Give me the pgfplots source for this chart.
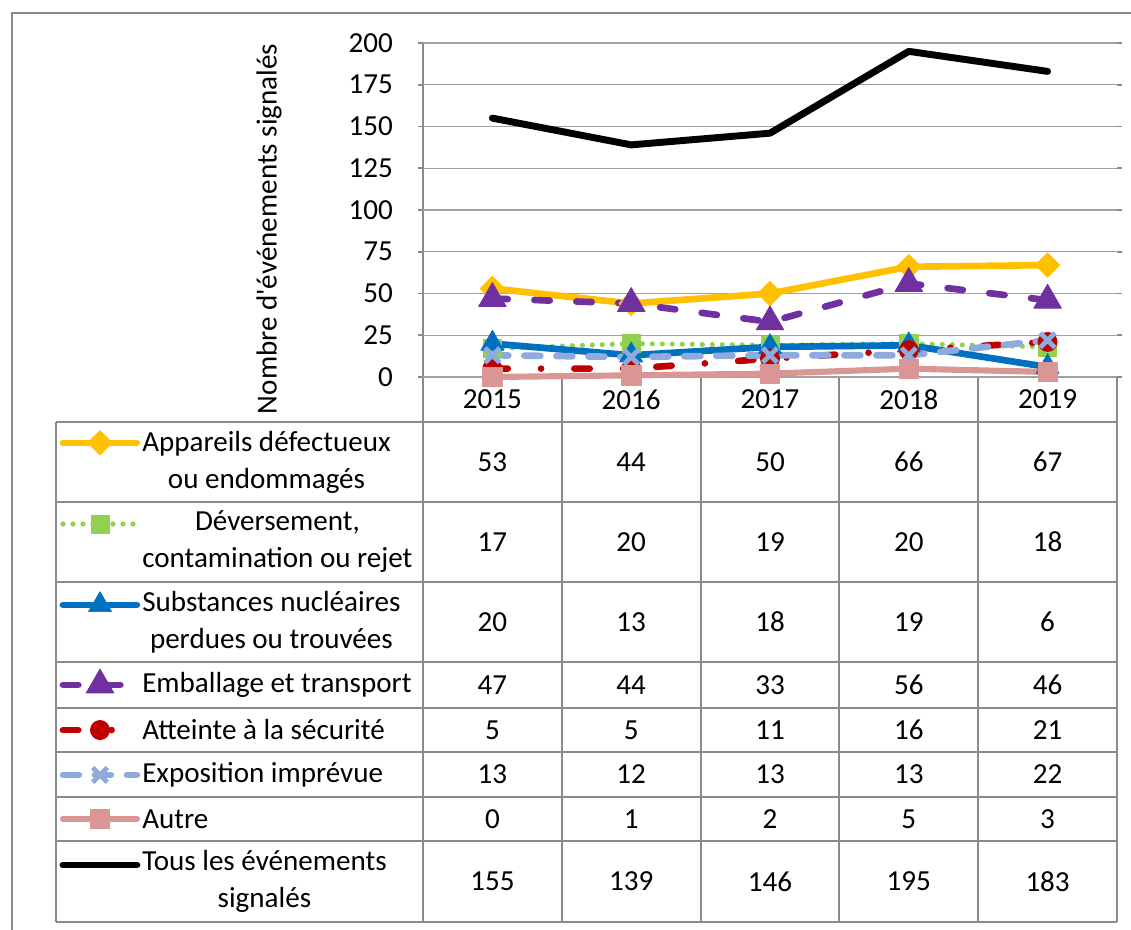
\documentclass[border=0pt]{standalone}
\usepackage{fontspec}
\setmainfont{Carlito}
\usepackage{pgfplots}
\pgfplotsset{compat=1.18}
\usepackage{pgfplotstable}
\definecolor{cA}{HTML}{FFC000}
\definecolor{cD}{HTML}{92D050}
\definecolor{cS}{HTML}{0070C0}
\definecolor{cE}{HTML}{7030A0}
\definecolor{cAt}{HTML}{C00000}
\definecolor{cEx}{HTML}{8FAADC}
\definecolor{cAu}{HTML}{D99694}
\definecolor{gridgray}{HTML}{A0A0A0}
\definecolor{tblgray}{HTML}{8A8A8A}
\newcommand\tf{\fontsize{21.8pt}{27.8pt}\selectfont}

\pgfplotstableread{
x A D S E At Ex Au T
0 53 17 20 47 5 13 0 155
1 44 20 13 44 5 12 1 139
2 50 19 18 33 11 13 2 146
3 66 20 19 56 16 13 5 195
4 67 18 6 46 21 22 3 183
}\data

\pgfplotsset{
 base/.style={line width=5pt, line cap=round, line join=round},
 sA/.style={base, color=cA, mark=square*, mark size=6.5pt, mark options={solid, rotate=45, line width=0.5pt}},
 sD/.style={base, line width=3.9pt, color=cD, dash pattern=on 0pt off 7.5pt, mark=square*, mark size=6.8pt, mark options={solid, line width=0.5pt}},
 sS/.style={base, color=cS, mark=triangle*, mark size=10pt, mark options={solid, line width=0.5pt}},
 sE/.style={base, color=cE, dash pattern=on 11.5pt off 20pt, mark=triangle*, mark size=12pt, mark options={solid, line width=0.5pt}},
 sAt/.style={base, color=cAt, dash pattern=on 11.5pt off 25pt on 0pt off 25pt, mark=*, mark size=7.2pt, mark options={solid, line width=0.5pt}},
 sEx/.style={base, color=cEx, dash pattern=on 12pt off 12pt, mark=x, mark size=7.8pt, mark options={solid, line width=3.6pt, line cap=butt}},
 sAu/.style={base, line width=4.6pt, color=cAu, mark=square*, mark size=7.3pt, mark options={solid, line width=0.5pt}},
 sT/.style={base, line width=5.2pt, color=black, mark=none},
 num/.style={draw=none, forget plot, nodes near coords, point meta=explicit,
   every node near coord/.style={anchor=center, inner sep=0pt, font=\tf, text=black}},
}

\begin{document}
\begin{tikzpicture}[px/.style={x=0.75pt, y=-0.75pt, shift={(-423,-377)}},
  tbl/.style={draw=tblgray, line width=1.5pt}]
% frame and table grid
\begin{scope}[px]
\draw[draw=tblgray, line width=1.2pt] (12,1000) -- (12,13) -- (1200,13);
\foreach \Y in {422,502,582,662,708,752,797,841,922}
  \draw[tbl] (56,\Y) -- (1117,\Y);
\draw[tbl] (423,377) -- (1117,377);
\draw[tbl] (56,422) -- (56,922);
\draw[tbl] (423,43) -- (423,922);
\foreach \X in {561.8,700.6,839.4,978.2,1117}
  \draw[tbl] (\X,377) -- (\X,922);
% legend texts
\begin{scope}[every node/.style={anchor=west, align=center, inner sep=0pt, font=\tf}]
\node at (142,462) {Appareils défectueux\\ou endommagés};
\node at (142,542) {Déversement,\\contamination ou rejet};
\node at (142,622) {Substances nucléaires\\perdues ou trouvées};
\node at (142,685) {Emballage et transport};
\node at (142,730) {Atteinte à la sécurité};
\node at (142,774.5) {Exposition imprévue};
\node at (142,819) {Autre};
\node at (142,881.5) {Tous les événements\\signalés};
\end{scope}
\node[rotate=90, font=\tf, inner sep=0pt] at (269,229) {Nombre d\textquotesingle événements signalés};
\end{scope}

\begin{axis}[
 at={(0,0)}, anchor=south west,
 scale only axis, width=520.5pt, height=250.5pt,
 xmin=-0.5, xmax=4.5, ymin=0, ymax=200,
 ytick={0,25,...,200},
 xtick={0,...,4}, xticklabels={2015,2016,2017,2018,2019},
 ymajorgrids, grid style={color=gridgray, line width=1.1pt},
 axis line style={draw=none},
 major x tick style={draw=none},
 major y tick style={color=tblgray, line width=1.2pt},
 tick align=outside, major tick length=3.75pt,
 xticklabel style={anchor=center, inner sep=0pt, yshift=-13.15pt, font=\tf},
 yticklabel style={anchor=east, inner sep=0pt, xshift=-18.75pt, font=\tf},
 /pgf/number format/assume math mode=true,
 clip=false,
]
\addplot[sA] table[x=x,y=A]{\data};
\addplot[sD] table[x=x,y=D]{\data};
\addplot[sS] table[x=x,y=S]{\data};
\addplot[sE] table[x=x,y=E]{\data};
\addplot[sAt] table[x=x,y=At]{\data};
\addplot[sEx] table[x=x,y=Ex]{\data};
\addplot[sAu] table[x=x,y=Au]{\data};
\addplot[sT] table[x=x,y=T]{\data};
% legend keys
\addplot[sA, forget plot, mark indices={2}] coordinates {(-3.094,-39.5) (-2.827,-39.5) (-2.561,-39.5)};
\addplot[sD, forget plot, mark indices={2}] coordinates {(-3.094,-88.0) (-2.827,-88.0) (-2.561,-88.0)};
\addplot[sS, forget plot, mark indices={2}] coordinates {(-3.094,-136.5) (-2.827,-136.5) (-2.561,-136.5)};
\addplot[sE, forget plot, mark indices={2}] coordinates {(-3.094,-184.4) (-2.827,-184.4) (-2.561,-184.4)};
\addplot[sAt, forget plot, mark indices={2}] coordinates {(-3.094,-211.4) (-2.827,-211.4) (-2.561,-211.4)};
\addplot[sEx, forget plot, mark indices={2}] coordinates {(-3.094,-238.3) (-2.827,-238.3) (-2.561,-238.3)};
\addplot[sAu, forget plot, mark indices={2}] coordinates {(-3.094,-264.7) (-2.827,-264.7) (-2.561,-264.7)};
\addplot[sT, forget plot] coordinates {(-3.094,-292.2) (-2.561,-292.2)};
% table values
\addplot[num] table[x=x, y expr=-50.9, meta=A]{\data};
\addplot[num] table[x=x, y expr=-98.8, meta=D]{\data};
\addplot[num] table[x=x, y expr=-146.7, meta=S]{\data};
\addplot[num] table[x=x, y expr=-184.4, meta=E]{\data};
\addplot[num] table[x=x, y expr=-211.4, meta=At]{\data};
\addplot[num] table[x=x, y expr=-238.0, meta=Ex]{\data};
\addplot[num] table[x=x, y expr=-264.7, meta=Au]{\data};
\addplot[num] table[x=x, y expr=-302.1, meta=T]{\data};
\end{axis}

\pgfresetboundingbox
\begin{scope}[px]
\path[use as bounding box] (0,0) rectangle (1131,930);
\end{scope}
\end{tikzpicture}
\end{document}
